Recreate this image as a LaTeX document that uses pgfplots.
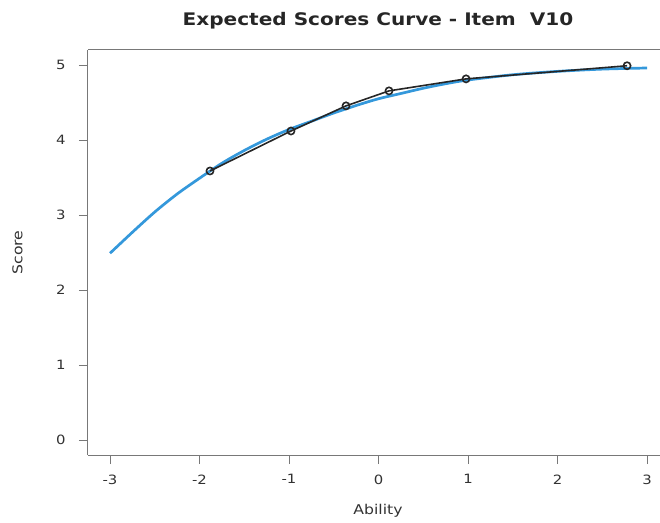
\documentclass[border=0pt]{standalone}
\usepackage{fontspec}
\setmainfont{DejaVu Sans}[FakeStretch=1.16]
\usepackage{pgfplots}
\pgfplotsset{compat=1.18}
\definecolor{curveblue}{RGB}{52,152,219}
\definecolor{axisgray}{RGB}{120,120,120}
\definecolor{textgray}{RGB}{50,50,50}
\begin{document}
\begin{tikzpicture}
\begin{axis}[
  scale only axis, width=572bp, height=405bp,
  xmin=-3.246, xmax=3.145, ymin=-0.2, ymax=5.2,
  axis x line*=box, axis y line*=left,
  xtick pos=lower, ytick pos=left,
  xtick={-3,-2,-1,0,1,2,3}, xticklabels={-3,-2,-1,0,1,2,3},
  ytick={0,1,2,3,4,5}, yticklabels={0,1,2,3,4,5},
  tick align=outside, major tick length=9bp,
  tick style={axisgray, line width=0.8bp},
  axis line style={axisgray, line width=1bp},
  ticklabel style={font=\fontsize{12.8bp}{15bp}\selectfont, text=textgray},
  xticklabel style={yshift=-7bp},
  yticklabel style={xshift=-10bp},
  xlabel={Ability}, ylabel={Score},
  every axis x label/.style={at={(axis description cs:0.507,-0.1383)}, anchor=center, font=\fontsize{13.5bp}{16bp}\selectfont, text=textgray},
  every axis y label/.style={at={(axis description cs:-0.1233,0.5)}, anchor=center, rotate=90, font=\fontsize{13.5bp}{16bp}\selectfont, text=textgray},
  title={Expected Scores Curve - Item\ \ V10},
  every axis title/.style={at={(axis description cs:0.507,1.0617)}, anchor=base, font=\fontsize{17.3bp}{20bp}\selectfont\bfseries, text=black!85},
]
\coordinate (sw) at (rel axis cs:0,0);
\coordinate (ne) at (rel axis cs:1,1);
\addplot[curveblue, line width=2.7bp, smooth] coordinates {
(-3,2.49) (-2.75,2.77) (-2.5,3.04) (-2.25,3.28) (-2,3.49) (-1.75,3.69)
(-1.5,3.86) (-1.25,4.01) (-1,4.14) (-0.75,4.25) (-0.5,4.36) (-0.25,4.46)
(0,4.55) (0.25,4.62) (0.5,4.69) (0.75,4.75) (1,4.80) (1.5,4.87)
(2,4.915) (2.5,4.945) (3,4.96)};
\addplot[black!85, line width=1.6bp, mark=o, mark size=3.6bp, mark options={line width=1.6bp}] coordinates {
(-1.883,3.587) (-0.978,4.12) (-0.363,4.455) (0.117,4.655) (0.978,4.815) (2.777,4.99)};
\end{axis}
\pgfresetboundingbox
\path ([shift={(-88bp,-68bp)}]sw) rectangle ([shift={(0bp,50bp)}]ne);
\end{tikzpicture}
\end{document}
